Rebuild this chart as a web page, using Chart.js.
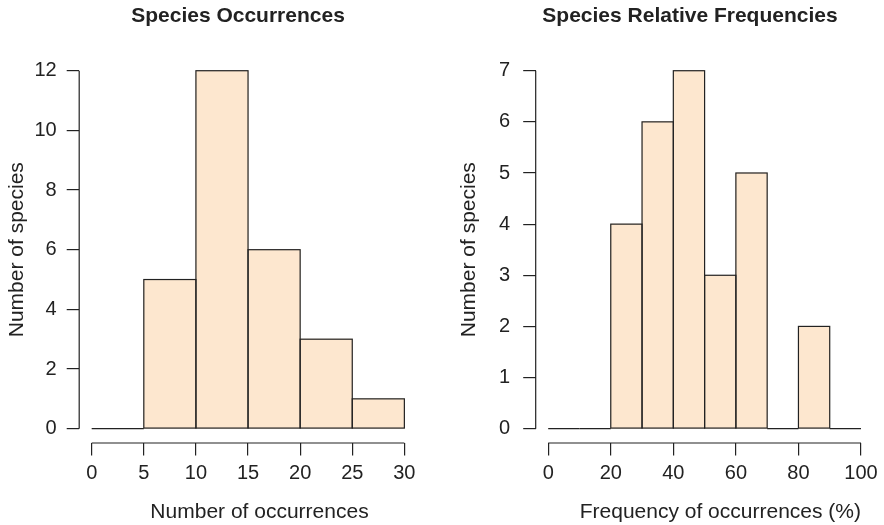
<!DOCTYPE html>
<html>
<head>
<meta charset="utf-8">
<script src="https://cdn.jsdelivr.net/npm/chart.js@4.4.1/dist/chart.umd.min.js"></script>
<style>
  html, body { margin: 0; padding: 0; background: #fff; overflow: hidden; width: 884px; height: 525px; }
  canvas { position: absolute; top: 0; }
  #occ { left: 0; }
  #freq { left: 452px; }
</style>
</head>
<body>
<canvas id="occ" width="476" height="525"></canvas>
<canvas id="freq" width="476" height="525"></canvas>
<script>
// left histogram: number of occurrences per species
const occBreaks = [0, 5, 10, 15, 20, 25, 30];
const occCounts = [0, 5, 12, 6, 3, 1];
const occXTicks = [0, 5, 10, 15, 20, 25, 30];
const occYTicks = [0, 2, 4, 6, 8, 10, 12];

// right histogram: relative frequency of occurrences (%)
const freqBreaks = [0, 10, 20, 30, 40, 50, 60, 70, 80, 90, 100];
const freqCounts = [0, 0, 4, 6, 7, 3, 5, 0, 2, 0];
const freqXTicks = [0, 20, 40, 60, 80, 100];
const freqYTicks = [0, 1, 2, 3, 4, 5, 6, 7];

const FONT = "'Liberation Sans', Arial, Helvetica, sans-serif";
const INK = '#222';
const FILL = '#fde7cf';

// outline every bin like R's hist(), empty bins become a flat line at 0
const histOutline = {
  id: 'histOutline',
  afterDatasetsDraw(chart) {
    const ctx = chart.ctx;
    ctx.save();
    ctx.strokeStyle = INK;
    ctx.lineWidth = 1.2;
    chart.getDatasetMeta(0).data.forEach(bar => {
      const {x, y, base, width} = bar.getProps(['x', 'y', 'base', 'width'], true);
      ctx.strokeRect(x - width / 2, Math.min(y, base), width, Math.abs(base - y));
    });
    ctx.restore();
  }
};

// axis lines that only run from first to last tick
const rAxes = {
  id: 'rAxes',
  afterDraw(chart) {
    const {ctx, chartArea, scales: {x, y}} = chart;
    const xt = x.ticks, yt = y.ticks;
    ctx.save();
    ctx.strokeStyle = INK;
    ctx.lineWidth = 1.2;
    ctx.beginPath();
    ctx.moveTo(chartArea.left, y.getPixelForValue(yt[0].value));
    ctx.lineTo(chartArea.left, y.getPixelForValue(yt[yt.length - 1].value));
    ctx.moveTo(x.getPixelForValue(xt[0].value), chartArea.bottom);
    ctx.lineTo(x.getPixelForValue(xt[xt.length - 1].value), chartArea.bottom);
    ctx.stroke();
    ctx.restore();
  }
};

function histogram(id, o) {
  const bins = o.counts.map((c, i) => ({x: (o.breaks[i] + o.breaks[i + 1]) / 2, y: c}));
  const xPad = (o.xTicks[o.xTicks.length - 1] - o.xTicks[0]) * 0.04;
  const yPad = (o.yTicks[o.yTicks.length - 1] - o.yTicks[0]) * 0.04;

  return new Chart(document.getElementById(id), {
    type: 'bar',
    data: {
      datasets: [{
        data: bins,
        yAxisID: 'y',
        backgroundColor: FILL,
        borderWidth: 0,
        barPercentage: 1,
        categoryPercentage: 1
      }]
    },
    options: {
      responsive: false,
      animation: false,
      layout: { padding: 0 },
      plugins: {
        legend: { display: false },
        tooltip: { enabled: false },
        title: {
          display: true,
          text: o.title,
          color: INK,
          font: { family: FONT, size: 21, weight: 'bold' },
          padding: { top: 4, bottom: 27.2 }
        }
      },
      scales: {
        x: {
          type: 'linear',
          offset: false,
          min: o.xTicks[0] - xPad,
          max: o.xMax,
          afterBuildTicks: s => { s.ticks = o.xTicks.map(v => ({ value: v })); },
          afterFit: s => { s.height = 82; },
          grid: { offset: false, drawOnChartArea: false, tickLength: 12.5, color: INK, lineWidth: 1.2 },
          border: { display: false },
          ticks: { color: INK, padding: 6, maxRotation: 0, autoSkip: false, font: { family: FONT, size: 20 } },
          title: {
            display: true,
            text: o.xLabel,
            align: o.xAlign,
            color: INK,
            font: { family: FONT, size: 21 },
            padding: { top: 0, bottom: 0 }
          }
        },
        y: {
          type: 'linear',
          min: o.yTicks[0] - yPad,
          max: o.yTicks[o.yTicks.length - 1] + yPad,
          afterBuildTicks: s => { s.ticks = o.yTicks.map(v => ({ value: v })); },
          afterFit: s => { s.width = o.yWidth; },
          grid: { drawOnChartArea: false, tickLength: 12.5, color: INK, lineWidth: 1.2 },
          border: { display: false },
          ticks: { color: INK, padding: o.tickGap, autoSkip: false, font: { family: FONT, size: 20 } },
          title: {
            display: true,
            text: 'Number of species',
            color: INK,
            font: { family: FONT, size: 21 },
            padding: { top: 5, bottom: 0 }
          }
        },
        // empty box on the right, keeps the title where R put it
        pad: {
          type: 'linear',
          position: 'right',
          grid: { display: false },
          border: { display: false },
          ticks: { display: false },
          afterFit: s => { s.width = o.spacer; }
        }
      }
    },
    plugins: [histOutline, rAxes]
  });
}

histogram('occ', {
  title: 'Species Occurrences',
  xLabel: 'Number of occurrences',
  breaks: occBreaks,
  counts: occCounts,
  xTicks: occXTicks,
  yTicks: occYTicks,
  xMax: 33.4,
  xAlign: 'center',
  yWidth: 79.2,
  tickGap: 10,
  spacer: 36.2
});

histogram('freq', {
  title: 'Species Relative Frequencies',
  xLabel: 'Frequency of occurrences (%)',
  breaks: freqBreaks,
  counts: freqCounts,
  xTicks: freqXTicks,
  yTicks: freqYTicks,
  xMax: 100,
  xAlign: 'end',
  yWidth: 83.7,
  tickGap: 13,
  spacer: 67
});
</script>
</body>
</html>
